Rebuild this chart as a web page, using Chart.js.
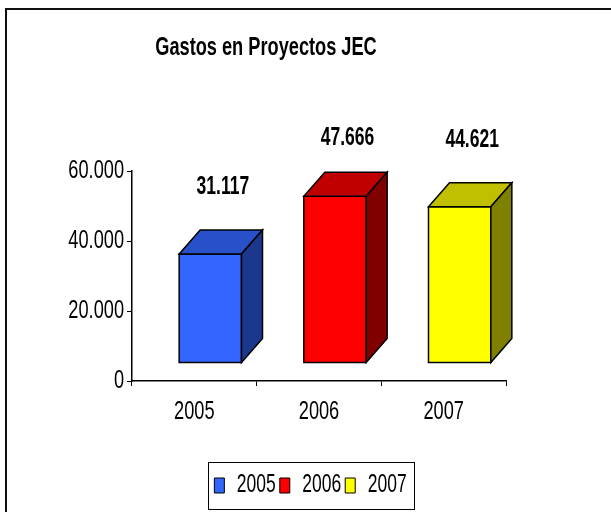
<!DOCTYPE html>
<html>
<head>
<meta charset="utf-8">
<script src="https://cdn.jsdelivr.net/npm/chart.js@4"></script>
<style>
    html, body { margin: 0; padding: 0; background: #fff; }
    canvas { display: block; }
</style>
</head>
<body>
<canvas id="gastos-chart" width="611" height="512"></canvas>
<script>
const years = ['2005', '2006', '2007'];
const gastos = [31117, 47666, 44621];
const frontColors = ['#3366FF', '#FF0000', '#FFFF00'];
const topColors = ['#2850C8', '#C00000', '#C0C000'];
const sideColors = ['#1C388C', '#800000', '#808000'];
const chartTitle = 'Gastos en Proyectos JEC';

const FONT = "'Liberation Sans', Arial, sans-serif";
Chart.defaults.font.family = FONT;
Chart.defaults.color = '#000';

// no Arial Narrow here, so squeeze all canvas text sideways instead
const SQUEEZE = 0.70;
const origFill = CanvasRenderingContext2D.prototype.fillText;
const origMeasure = CanvasRenderingContext2D.prototype.measureText;
CanvasRenderingContext2D.prototype.fillText = function (text, x, y, maxWidth) {
    this.save();
    this.translate(x, y);
    this.scale(SQUEEZE, 1);
    if (maxWidth === undefined) origFill.call(this, text, 0, 0);
    else origFill.call(this, text, 0, 0, maxWidth / SQUEEZE);
    this.restore();
};
CanvasRenderingContext2D.prototype.measureText = function (text) {
    const m = origMeasure.call(this, text);
    return {
        width: m.width * SQUEEZE,
        actualBoundingBoxLeft: m.actualBoundingBoxLeft * SQUEEZE,
        actualBoundingBoxRight: m.actualBoundingBoxRight * SQUEEZE,
        actualBoundingBoxAscent: m.actualBoundingBoxAscent,
        actualBoundingBoxDescent: m.actualBoundingBoxDescent,
    };
};

// 60000 -> "60.000"
function fmt(v) {
    return Math.round(v).toString().replace(/\B(?=(\d{3})+(?!\d))/g, '.');
}

// excel style 3d boxes, drawn on top of the (invisible) bar elements
const bars3d = {
    id: 'bars3d',
    afterDatasetsDraw(chart) {
        const ctx = chart.ctx;
        const meta = chart.getDatasetMeta(0);
        const ox = 16, oy = -18;   // front face set back from axis plane
        const dx = 21, dy = -24;   // depth
        ctx.save();
        ctx.lineWidth = 1.5;
        ctx.strokeStyle = '#000';
        ctx.lineJoin = 'miter';
        meta.data.forEach((bar, i) => {
            const { x, y, base, width } = bar.getProps(['x', 'y', 'base', 'width'], true);
            const l = x - width / 2 + ox, r = x + width / 2 + ox;
            const t = y + oy, b = base + oy;

            ctx.fillStyle = frontColors[i];
            ctx.beginPath();
            ctx.rect(l, t, r - l, b - t);
            ctx.fill(); ctx.stroke();

            ctx.fillStyle = topColors[i];
            ctx.beginPath();
            ctx.moveTo(l, t);
            ctx.lineTo(l + dx, t + dy);
            ctx.lineTo(r + dx, t + dy);
            ctx.lineTo(r, t);
            ctx.closePath();
            ctx.fill(); ctx.stroke();

            ctx.fillStyle = sideColors[i];
            ctx.beginPath();
            ctx.moveTo(r, t);
            ctx.lineTo(r + dx, t + dy);
            ctx.lineTo(r + dx, b + dy);
            ctx.lineTo(r, b);
            ctx.closePath();
            ctx.fill(); ctx.stroke();

            // value label, excel keeps it inside the plot frame
            const ly = Math.max(t + dy - 43, chart.chartArea.top - 33);
            ctx.fillStyle = '#000';
            ctx.font = 'bold 25px ' + FONT;
            ctx.textAlign = 'center';
            ctx.textBaseline = 'middle';
            ctx.fillText(fmt(gastos[i]), (l + r) / 2 + dx / 2 + 2, ly);
        });
        ctx.restore();
    }
};

// frame, title and the box round the legend
const decor = {
    id: 'decor',
    beforeDraw(chart) {
        const ctx = chart.ctx;
        ctx.save();
        ctx.fillStyle = '#fff';
        ctx.fillRect(0, 0, chart.width, chart.height);
        ctx.strokeStyle = '#111';
        ctx.lineWidth = 2;
        ctx.strokeRect(6, 9, chart.width + 20, chart.height + 20);
        ctx.restore();
    },
    afterDraw(chart) {
        const ctx = chart.ctx;
        ctx.save();
        ctx.fillStyle = '#000';
        ctx.font = 'bold 26px ' + FONT;
        ctx.textAlign = 'center';
        ctx.textBaseline = 'middle';
        ctx.fillText(chartTitle, 266, 48);

        const boxes = chart.legend.legendHitBoxes;
        if (boxes && boxes.length) {
            const left = Math.min(...boxes.map(b => b.left));
            const right = Math.max(...boxes.map(b => b.left + b.width));
            const top = boxes[0].top;
            const h = boxes[0].height;
            ctx.strokeStyle = '#000';
            ctx.lineWidth = 1;
            ctx.strokeRect(Math.round(left - 6) + 0.5, Math.round(top + h / 2 - 24) + 0.5,
                Math.round(right - left + 14), 47);
        }
        ctx.restore();
    }
};

const ctx = document.getElementById('gastos-chart').getContext('2d');
new Chart(ctx, {
    type: 'bar',
    data: {
        labels: years,
        datasets: [{
            label: 'Gastos',
            data: gastos,
            backgroundColor: 'rgba(0,0,0,0)',
            borderWidth: 0,
            categoryPercentage: 0.5,
            barPercentage: 1.0,
        }]
    },
    options: {
        responsive: false,
        animation: false,
        layout: { padding: { top: 171, left: 10, right: 0, bottom: 4 } },
        plugins: {
            title: { display: false },
            tooltip: { enabled: false },
            legend: {
                position: 'bottom',
                labels: {
                    font: { size: 25 },
                    boxWidth: 10,
                    boxHeight: 15,
                    padding: 4,
                    generateLabels: () => years.map((y, i) => ({
                        text: y,
                        fillStyle: frontColors[i],
                        strokeStyle: '#000',
                        lineWidth: 1,
                        index: i,
                    })),
                }
            }
        },
        scales: {
            x: {
                grid: { display: true, drawOnChartArea: false, offset: true, tickLength: 5, color: '#000' },
                border: { display: true, color: '#000', width: 1.5 },
                ticks: { font: { size: 26 }, padding: 10, maxRotation: 0 },
                afterFit: (s) => { s.height = s.chart.height - 381 - s.chart.legend.height - 4; }
            },
            y: {
                min: 0,
                max: 60000,
                grid: { display: true, drawOnChartArea: false, tickLength: 5, color: '#000' },
                border: { display: true, color: '#000', width: 1.5 },
                ticks: { stepSize: 20000, font: { size: 26 }, padding: 3, callback: (v) => fmt(v) },
                afterFit: (s) => { s.width = 122; }
            },
            // empty axis, only keeps room on the right like the original
            y2: {
                position: 'right',
                grid: { display: false },
                border: { display: false },
                ticks: { display: false },
                afterFit: (s) => { s.width = 105; }
            }
        }
    },
    plugins: [bars3d, decor]
});
</script>
</body>
</html>
